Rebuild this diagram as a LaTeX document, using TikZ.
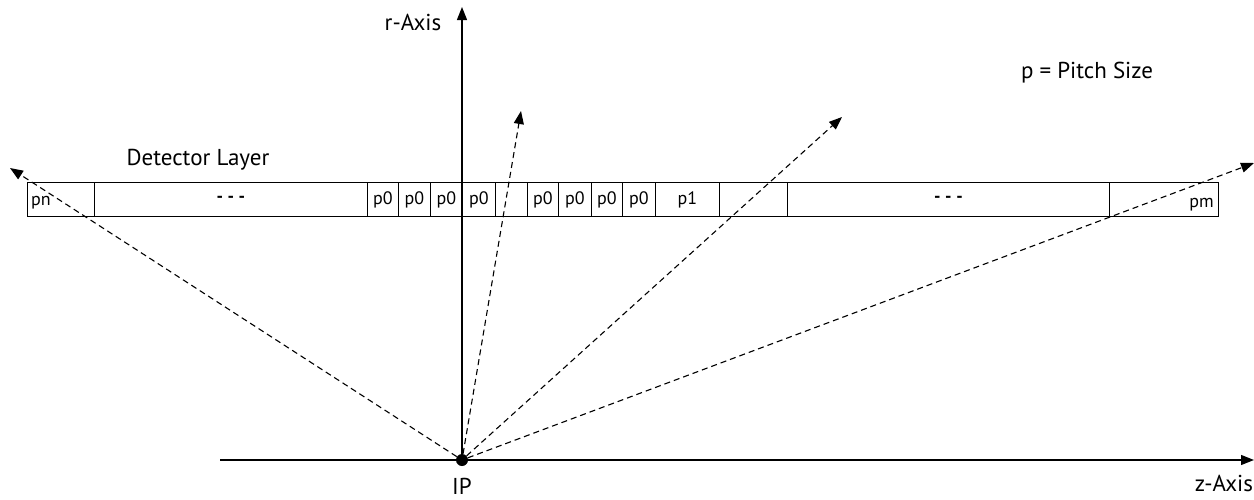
\documentclass[tikz,border=0pt]{standalone}
\usepackage{fontspec}
\setmainfont{PT Sans}
\usetikzlibrary{arrows.meta}
\begin{document}
\begin{tikzpicture}[x=1pt,y=-1pt,
  cell/.style={draw,line width=0.9pt,minimum height=34pt,inner sep=0pt,anchor=north west,font=\fontsize{18}{20}\selectfont},
  axis/.style={line width=1.3pt,-{Triangle[length=13pt,width=10pt]}},
  ray/.style={line width=1.1pt,dash pattern=on 6pt off 4pt,-{Triangle[length=13pt,width=10pt]}},
  lbl/.style={font=\fontsize{23}{25}\selectfont,inner sep=0pt}]
\useasboundingbox (0,0) rectangle (1254,499);
% axes
\node[circle,fill,inner sep=0pt,minimum size=12pt] (ip) at (462,460) {};
\coordinate (zstart) at (220,460);
\coordinate (zend) at (1254,460);
\coordinate (rtop) at (462,7);
\draw[axis] (zstart) -- (zend);
\draw[axis] (ip.center) -- (rtop);
\node[lbl] (zlab) at (1224,483) {z-Axis};
\node[lbl] (rlab) at (413,22) {r-Axis};
\node[lbl] (iplab) at (462,486) {IP};
% detector cells
\foreach \name/\a/\b/\t in {c1/27/94/{}, c2/94/367/{\textbf{- - -}}, c3/367/398/p0, c4/398/430/p0, c5/430/462/p0, c6/462/495/p0, c7/495/527/{}, c8/527/558/p0, c9/558/591/p0, c10/591/622/p0, c11/622/655/p0, c12/655/719/p1, c13/719/787/{}, c14/787/1109/{\textbf{- - -}}, c15/1109/1218/{}}
  {\pgfmathsetmacro{\w}{\b-\a}
   \node[cell,minimum width=\w pt] (\name) at (\a,182) {\t};}
\node[anchor=west,inner sep=0pt,font=\fontsize{18}{20}\selectfont] (pn) at ([xshift=4pt,yshift=-3pt]c1.west) {pn};
\node[anchor=east,inner sep=0pt,font=\fontsize{18}{20}\selectfont] (pm) at ([xshift=-5pt,yshift=-5pt]c15.east) {pm};
\node[lbl] (det) at (198,160) {Detector Layer};
\node[lbl] (pitch) at (1087,73) {p = Pitch Size};
% rays
\coordinate (t1) at (10,168);
\coordinate (t2) at (521,111);
\coordinate (t3) at (842,117);
\coordinate (t4) at (1254,163);
\foreach \t in {t1,t2,t3,t4} \draw[ray] (ip) -- (\t);
\end{tikzpicture}
\end{document}
